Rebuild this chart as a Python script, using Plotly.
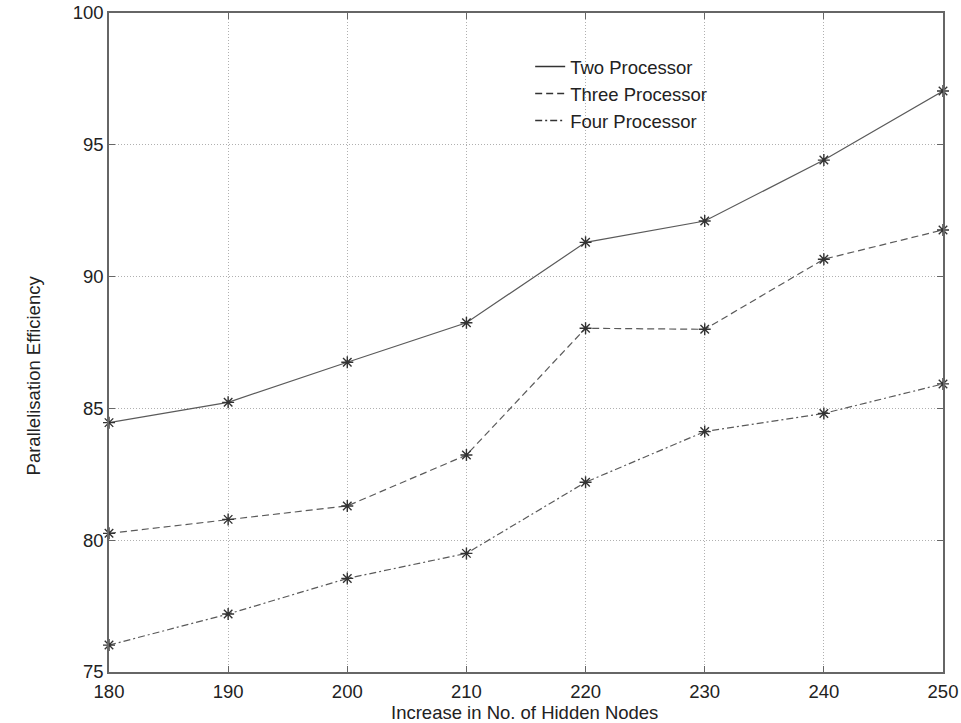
import plotly.graph_objects as go

hidden_nodes = [180, 190, 200, 210, 220, 230, 240, 250]
two_proc = [84.46, 85.23, 86.75, 88.25, 91.30, 92.11, 94.42, 97.04]
three_proc = [80.26, 80.79, 81.30, 83.23, 88.04, 88.00, 90.66, 91.77]
four_proc = [76.02, 77.20, 78.55, 79.50, 82.20, 84.12, 84.81, 85.93]

x_ticks = [180, 190, 200, 210, 220, 230, 240, 250]
y_ticks = [75, 80, 85, 90, 95, 100]

font_family = "Liberation Sans, Arial, sans-serif"
fs = 18.5
line_col = "#5a5a5a"
txt_col = "#222222"

fig = go.Figure()
series = [
    ("Two Processor", two_proc, "solid"),
    ("Three Processor", three_proc, "7px,4px"),
    ("Four Processor", four_proc, "7px,3px,2px,3px"),
]
for name, vals, dash in series:
    fig.add_trace(go.Scatter(
        x=hidden_nodes, y=vals, name=name, mode="lines+markers",
        line=dict(color=line_col, width=1.2, dash=dash),
        marker=dict(symbol="asterisk-open", size=10, color="#333333",
                    line=dict(color="#333333", width=1.4)),
        cliponaxis=False, showlegend=False,
    ))
# legend entries (line samples only, as in the original)
for name, vals, dash in series:
    fig.add_trace(go.Scatter(
        x=[None], y=[None], name=name, mode="lines",
        line=dict(color="#333333", width=1.4, dash=dash),
        showlegend=True,
    ))

axis_common = dict(
    showline=True, linecolor="#666666", linewidth=1.5, mirror="ticks",
    ticks="inside", ticklen=6, tickcolor="#666666",
    showgrid=True, gridcolor="#b0b0b0", griddash="1px,2px", gridwidth=1,
    zeroline=False, automargin=False,
    tickfont=dict(family=font_family, size=fs, color=txt_col),
)

fig.update_xaxes(range=[180, 250], tickvals=x_ticks, ticklabelstandoff=2,
                 **axis_common)
fig.update_yaxes(range=[75, 100], tickvals=y_ticks, ticklabelstandoff=0,
                 **axis_common)

fig.add_annotation(
    text="Increase in No. of Hidden Nodes", showarrow=False,
    xref="paper", yref="paper", x=0.498, y=0, yshift=-40,
    xanchor="center", yanchor="middle",
    font=dict(family=font_family, size=fs, color=txt_col),
)
fig.add_annotation(
    text="Parallelisation Efficiency", showarrow=False, textangle=-90,
    xref="paper", yref="paper", x=0, xshift=-76, y=0.45,
    xanchor="center", yanchor="middle",
    font=dict(family=font_family, size=fs, color=txt_col),
)

fig.update_layout(
    width=961, height=723,
    margin=dict(l=109, r=18, t=13, b=51),
    plot_bgcolor="white", paper_bgcolor="white",
    legend=dict(
        x=0.505, y=0.947, xanchor="left", yanchor="top",
        bgcolor="rgba(0,0,0,0)", borderwidth=0,
        font=dict(family=font_family, size=fs, color=txt_col),
        itemwidth=30, tracegroupgap=0,
    ),
    showlegend=True,
)

fig.write_html(
    "out.html",
    config={"displayModeBar": False},
    post_script="document.body.style.margin='0';document.body.style.overflow='hidden';",
)
